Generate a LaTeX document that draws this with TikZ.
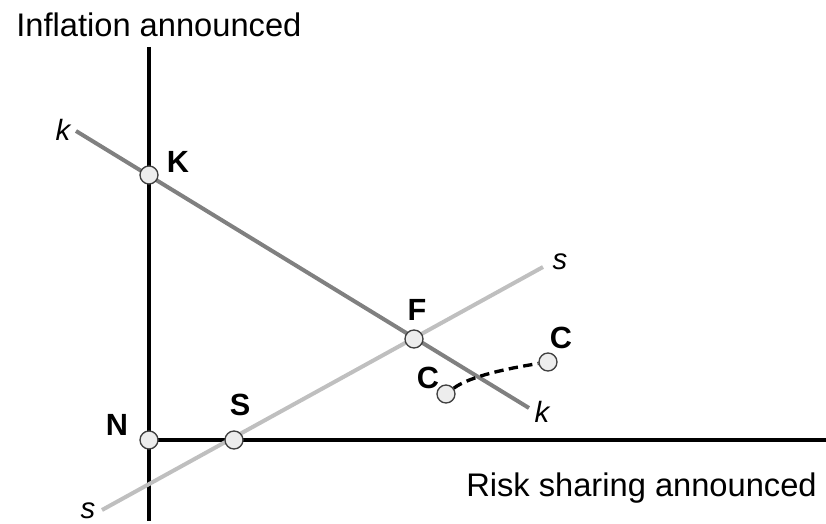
\documentclass[tikz,border=0pt]{standalone}
\usepackage{fontspec}
\setmainfont{Liberation Sans}
\begin{document}
\begin{tikzpicture}[
  x=0.75pt, y=-0.75pt,
  every node/.style={inner sep=0pt},
  axis/.style={line width=2.6pt, black},
  kline/.style={line width=3pt, black!50},
  sline/.style={line width=3pt, black!25},
  pt/.style={circle, draw=black!75, fill=black!7, line width=1pt, minimum size=13.5pt},
  tag/.style={font=\fontsize{23}{26}\selectfont\bfseries},
  lname/.style={font=\fontsize{22}{25}\selectfont\itshape},
  title/.style={font=\fontsize{24.5}{28}\selectfont}
]
  \useasboundingbox (0,0) rectangle (826,524);

  % Axes
  \coordinate (ytop) at (149,47);
  \coordinate (ybot) at (149,521);
  \coordinate (xend) at (826,440);
  \coordinate (orig) at (149,440);
  \draw[axis] (ytop) -- (ybot);
  \draw[axis] (orig) -- (xend);

  \node[title, anchor=base west] (yname) at (16,37) {Inflation announced};
  \node[title, anchor=base east] (xname) at (817,497) {Risk sharing announced};

  % Lines k and s
  \coordinate (k1) at (76,131);
  \coordinate (k2) at (529,408);
  \coordinate (s1) at (102,510);
  \coordinate (s2) at (543,267);
  \draw[kline] (k1) -- (k2);
  \draw[sline] (s1) -- (s2);

  \node[lname] (k1lab) at (63,130) {k};
  \node[lname] (k2lab) at (542,412) {k};
  \node[lname] (s1lab) at (88,511) {s};
  \node[lname] (s2lab) at (560,262) {s};

  % Points
  \node[pt] (K) at (149,175) {};
  \node[pt] (N) at (orig) {};
  \node[pt] (S) at (234,440) {};
  \node[pt] (F) at (414,339) {};
  \node[pt] (C1) at (446,394) {};
  \node[pt] (C2) at (548,362) {};

  \draw[line width=2.5pt, dash pattern=on 7pt off 4pt]
    (C1) .. controls (470,376) and (510,368) .. (C2);

  % Labels
  \node[tag] (Klab) at (178,162) {K};
  \node[tag] (Nlab) at (117,425) {N};
  \node[tag] (Slab) at (240,405) {S};
  \node[tag] (Flab) at (417,310) {F};
  \node[tag] (C1lab) at (428,378) {C};
  \node[tag] (C2lab) at (561,338) {C};
\end{tikzpicture}
\end{document}
